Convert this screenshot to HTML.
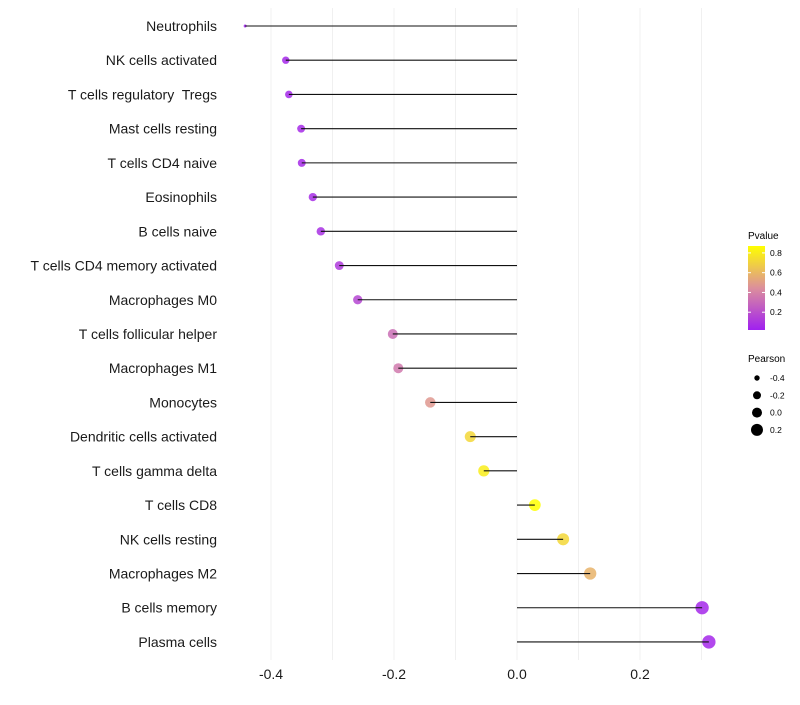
<!DOCTYPE html>
<html><head><meta charset="utf-8"><style>
body{margin:0;background:#fff;font-family:"Liberation Sans",sans-serif}
text{white-space:pre}
</style></head><body>
<svg id="chart" width="800" height="700" xmlns="http://www.w3.org/2000/svg" font-family="Liberation Sans, sans-serif">
<defs><linearGradient id="pg" x1="0" y1="1" x2="0" y2="0">
<stop offset="0" stop-color="#a020f0"/><stop offset="0.5" stop-color="#dc8f9c"/><stop offset="1" stop-color="#ffff00"/></linearGradient></defs>
<g id="grid"></g>
<g id="points"></g>
<g id="marks"></g>
<g id="axes"></g>
<g>
<text x="748" y="239" font-size="10">Pvalue</text>
<rect x="748" y="246" width="17" height="84" fill="url(#pg)"/>
<g id="cbticks"></g>
</g>
<g>
<text x="748" y="362" font-size="10">Pearson</text>
<g id="sizeleg"></g>
</g>
</svg>
<script>
const categories=["Neutrophils","NK cells activated","T cells regulatory  Tregs","Mast cells resting","T cells CD4 naive","Eosinophils","B cells naive","T cells CD4 memory activated","Macrophages M0","T cells follicular helper","Macrophages M1","Monocytes","Dendritic cells activated","T cells gamma delta","T cells CD8","NK cells resting","Macrophages M2","B cells memory","Plasma cells"];
const pearson=[-0.442,-0.376,-0.371,-0.351,-0.350,-0.332,-0.319,-0.289,-0.259,-0.202,-0.193,-0.141,-0.076,-0.054,0.029,0.075,0.119,0.301,0.312];
const pvalue=[0.02,0.05,0.05,0.06,0.06,0.07,0.08,0.12,0.17,0.32,0.36,0.48,0.72,0.8,0.87,0.72,0.58,0.05,0.05];
const xTicks=[-0.4,-0.2,0.0,0.2];
const xTickLabels=["-0.4","-0.2","0.0","0.2"];
const cbTicks=[0.2,0.4,0.6,0.8];
const sizeLegend=[-0.4,-0.2,0.0,0.2];
const NS="http://www.w3.org/2000/svg";
const x=v=>517+v*615;
const y=i=>26+i*34.22;
const rad=p=>1.5+5.7*Math.pow(Math.max(0,p+0.442),0.35);
function col(p){const t=Math.max(0,Math.min(1,(p-0.02)/0.85));
const s=[[160,32,240],[220,143,156],[255,255,0]];
let a,b,u;if(t<0.5){a=s[0];b=s[1];u=t/0.5}else{a=s[1];b=s[2];u=(t-0.5)/0.5}
return `rgb(${a.map((c,k)=>Math.round(c+(b[k]-c)*u)).join(",")})`;}
function mk(tag,attrs,parent){const e=document.createElementNS(NS,tag);for(const k in attrs)e.setAttribute(k,attrs[k]);document.getElementById(parent).appendChild(e);return e;}
for(let v=-0.4;v<=0.31;v+=0.1){const g=mk("line",{x1:x(v),x2:x(v),y1:8,y2:660,stroke:"#f0f0f0","stroke-width":1},"grid");

}
categories.forEach((c,i)=>{
const d=mk("circle",{cx:x(pearson[i]),cy:y(i),r:rad(pearson[i]),fill:col(pvalue[i]),"fill-opacity":0.85},"points");


const l=mk("line",{x1:x(0),x2:x(pearson[i]),y1:y(i),y2:y(i),stroke:"#111","stroke-width":1.1},"marks");


const t=mk("text",{x:217,y:y(i)+5,"font-size":14,"text-anchor":"end",fill:"#1a1a1a"},"axes");t.textContent=c;


});
xTicks.forEach((v,i)=>{const t=mk("text",{x:x(v),y:679,"font-size":14,"text-anchor":"middle",fill:"#1a1a1a"},"axes");t.textContent=xTickLabels[i];

});
const cy=p=>330-(p-0.02)/0.85*84;
cbTicks.forEach(v=>{mk("line",{x1:748,x2:751,y1:cy(v),y2:cy(v),stroke:"#fff"},"cbticks");mk("line",{x1:762,x2:765,y1:cy(v),y2:cy(v),stroke:"#fff"},"cbticks");
const t=mk("text",{x:770,y:cy(v)+3,"font-size":8.5},"cbticks");t.textContent=v.toFixed(1);

});
const legR=[2.7,4,5,6];
sizeLegend.forEach((v,i)=>{const yy=378+i*17.3;const c=mk("circle",{cx:757,cy:yy,r:legR[i],fill:"#000"},"sizeleg");


const t=mk("text",{x:770,y:yy+3,"font-size":8.5},"sizeleg");t.textContent=v.toFixed(1);

});
</script>
</body></html>
